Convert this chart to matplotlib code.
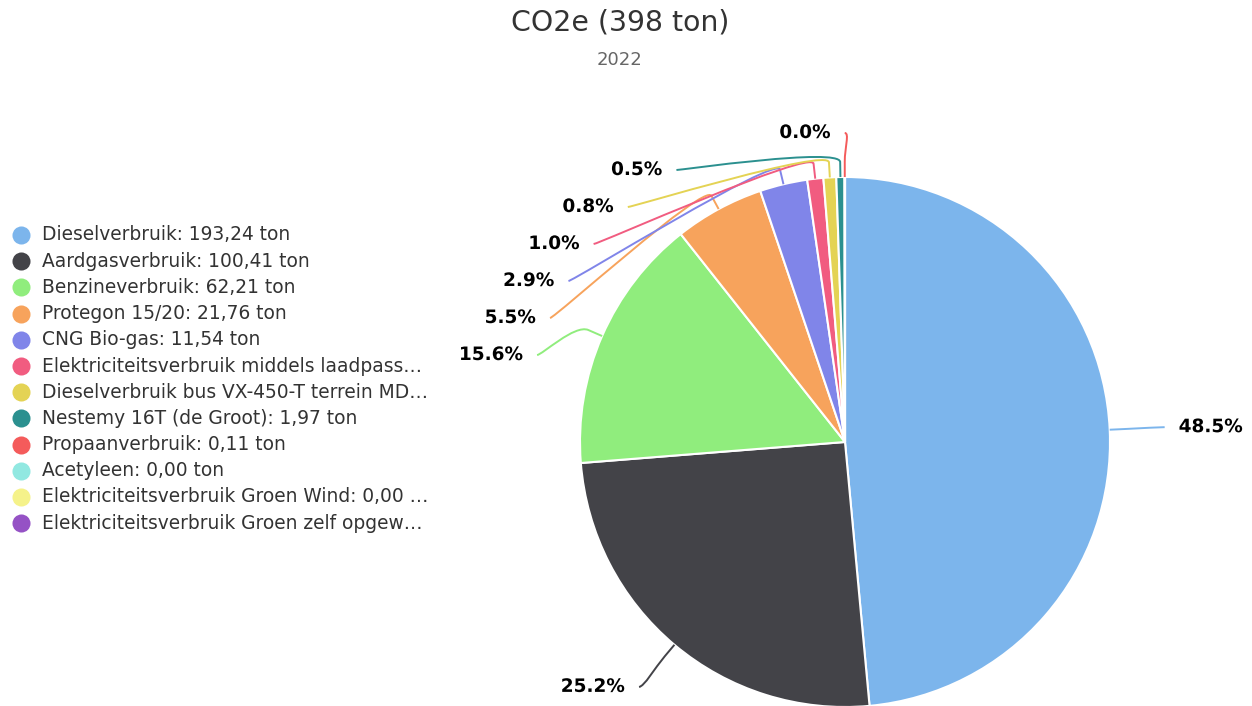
import numpy as np
import matplotlib
matplotlib.use("Agg")
import matplotlib.pyplot as plt
from matplotlib.path import Path
from matplotlib.patches import PathPatch
import matplotlib.patheffects as pe

# legend labels as shown (long ones are cut off in the original)
labels = [
    "Dieselverbruik: 193,24 ton",
    "Aardgasverbruik: 100,41 ton",
    "Benzineverbruik: 62,21 ton",
    "Protegon 15/20: 21,76 ton",
    "CNG Bio-gas: 11,54 ton",
    "Elektriciteitsverbruik middels laadpass\u2026",
    "Dieselverbruik bus VX-450-T terrein MD\u2026",
    "Nestemy 16T (de Groot): 1,97 ton",
    "Propaanverbruik: 0,11 ton",
    "Acetyleen: 0,00 ton",
    "Elektriciteitsverbruik Groen Wind: 0,00 \u2026",
    "Elektriciteitsverbruik Groen zelf opgew\u2026",
]
values = [193.24, 100.41, 62.21, 21.76, 11.54, 3.90, 3.10, 1.97, 0.11, 0.0, 0.0, 0.0]
colors = ["#7cb5ec", "#434348", "#90ed7d", "#f7a35c", "#8085e9", "#f15c80",
          "#e4d354", "#2b908f", "#f45b5b", "#91e8e1", "#f5f28a", "#9552c5"]

title = "CO2e (398 ton)"
subtitle = "2022"

W, H = 1252, 706
fig = plt.figure(figsize=(W / 100, H / 100), dpi=100)
ax = fig.add_axes([0, 0, 1, 1])
ax.set_xlim(0, W)
ax.set_ylim(0, H)
ax.axis("off")

# layout in pixels (y measured from the top, flipped when drawing)
cx, cy, r = 845, 442, 265
R_lab = 320          # where the connectors end
spacing = 37         # min vertical gap between labels
top_lim = 133

def fy(y):
    return H - y

vals = np.array(values)
ax.pie(vals, colors=colors, startangle=90, counterclock=False,
       center=(cx, fy(cy)), radius=r,
       wedgeprops=dict(edgecolor="white", linewidth=1.5))
ax.set_xlim(0, W)
ax.set_ylim(0, H)
ax.set_aspect("equal")

# data labels with soft connectors, highcharts-like
total = vals.sum()
cum = np.cumsum(vals) - vals / 2
items = []
for i, v in enumerate(vals):
    if v <= 0:
        continue
    a = np.deg2rad(cum[i] / total * 360)  # clockwise from top
    items.append(dict(i=i, a=a, left=np.sin(a) < 0,
                      ny=cy - R_lab * np.cos(a)))

for side in (True, False):
    grp = sorted([d for d in items if d["left"] == side], key=lambda d: d["ny"])
    prev = None
    for k, d in enumerate(grp):
        y = d["ny"]
        if k == 0:
            y = max(y, top_lim)
        else:
            y = max(y, prev + spacing)
        d["y"] = y
        prev = y
        yx = d["ny"] if (k == 0 and d["ny"] < top_lim) else y
        dx = np.sqrt(max(R_lab ** 2 - (yx - cy) ** 2, 0))
        d["x"] = cx - dx if side else cx + dx

for d in items:
    i, a = d["i"], d["a"]
    s, c = np.sin(a), np.cos(a)
    ex, ey = cx + r * s, cy - r * c
    bx, by = cx + (r + 15) * s, cy - (r + 15) * c
    x0, y0 = d["x"], d["y"]
    sgn = -1 if d["left"] else 1
    verts = [(x0, y0), (x0 - sgn * 5, y0), (2 * bx - ex, 2 * by - ey),
             (bx, by), (ex, ey)]
    verts = [(vx, fy(vy)) for vx, vy in verts]
    codes = [Path.MOVETO, Path.CURVE4, Path.CURVE4, Path.CURVE4, Path.LINETO]
    ax.add_patch(PathPatch(Path(verts, codes), facecolor="none",
                           edgecolor=colors[i], linewidth=1.4))
    pct = vals[i] / total * 100
    ax.text(x0 + sgn * 14, fy(y0), f"{pct:.1f}%", fontsize=13.3,
            fontweight="bold", color="black",
            ha="right" if d["left"] else "left", va="center",
            path_effects=[pe.withStroke(linewidth=2.5, foreground="white")])

# legend
for k, (lab, col) in enumerate(zip(labels, colors)):
    y = 235 + k * 26.2
    ax.plot(21, fy(y), "o", markersize=13, color=col, markeredgewidth=0)
    ax.text(42, fy(y), lab, fontsize=13.4, color="#333333", va="center", ha="left")

fig.text(620 / W, 1 - 22 / H, title, fontsize=20.4, color="#333333",
         ha="center", va="center")
fig.text(620 / W, 1 - 60 / H, subtitle, fontsize=13, color="#666666",
         ha="center", va="center")

fig.savefig("out.png", dpi=100, facecolor="white")
